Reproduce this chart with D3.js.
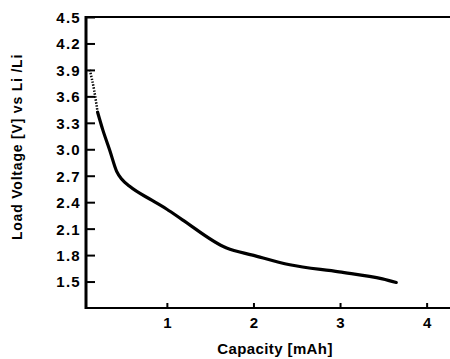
<!DOCTYPE html>
<html>
<head>
<meta charset="utf-8">
<script src="https://cdn.jsdelivr.net/npm/d3@7"></script>
<style>
  body { margin: 0; background: #fff; }
  svg { display: block; }
  text { font-family: "Liberation Sans", Arial, sans-serif; font-weight: bold; fill: #000; }
</style>
</head>
<body>
<svg id="svg" width="450" height="359"></svg>
<script>
// discharge curve
var capacity = [0.11, 0.16, 0.20, 0.26, 0.34, 0.42, 0.48, 0.57, 0.83, 1.00, 1.18, 1.69, 1.99, 2.42, 2.99, 3.49, 3.65];
var voltage  = [3.90, 3.67, 3.42, 3.22, 2.99, 2.75, 2.66, 2.58, 2.42, 2.32, 2.20, 1.88, 1.80, 1.69, 1.61, 1.53, 1.49];
var dottedUntil = 3; // first points are drawn sparse/dotted

var yTicks = [1.5, 1.8, 2.1, 2.4, 2.7, 3.0, 3.3, 3.6, 3.9, 4.2, 4.5];
var xTicks = [1, 2, 3, 4];

var svg = d3.select("#svg");
var mLeft = 86, mTop = 17, mBottom = 308, mRight = 450;

var x = d3.scaleLinear().domain([0.066, 4.27]).range([mLeft, mRight]);
var y = d3.scaleLinear().domain([1.2, 4.5]).range([mBottom, mTop]);

// frame: top and bottom lines
svg.append("line").attr("x1", mLeft).attr("x2", mRight).attr("y1", mTop).attr("y2", mTop)
  .attr("stroke", "#000").attr("stroke-width", 2);
svg.append("line").attr("x1", mLeft).attr("x2", mRight).attr("y1", mBottom).attr("y2", mBottom)
  .attr("stroke", "#000").attr("stroke-width", 2);

// y axis, ticks pointing inward
let yAxis = svg.append("g")
  .attr("transform", `translate(${mLeft},0)`)
  .call(d3.axisRight(y).tickValues(yTicks).tickSize(9).tickFormat(d3.format(".1f")));
yAxis.select(".domain").remove();
yAxis.selectAll(".tick line").attr("stroke", "#000").attr("stroke-width", 2);
yAxis.selectAll(".tick text")
  .attr("x", -5).attr("text-anchor", "end")
  .attr("font-size", 15).attr("letter-spacing", 1.3).attr("dy", "0.36em");
svg.append("line").attr("x1", mLeft).attr("x2", mLeft).attr("y1", mTop - 1).attr("y2", mBottom + 1)
  .attr("stroke", "#000").attr("stroke-width", 3);

// x axis, small ticks pointing up
let xAxis = svg.append("g")
  .attr("transform", `translate(0,${mBottom})`)
  .call(d3.axisTop(x).tickValues(xTicks).tickSize(5).tickFormat(d3.format("d")));
xAxis.select(".domain").remove();
xAxis.selectAll(".tick line").attr("stroke", "#000").attr("stroke-width", 2);
xAxis.selectAll(".tick text")
  .attr("y", 20).attr("dy", 0).attr("font-size", 15);

// curve
let line = d3.line().x(d => x(d[0])).y(d => y(d[1])).curve(d3.curveMonotoneX);
let pts = d3.zip(capacity, voltage);
svg.append("path")
  .attr("d", line(pts.slice(0, dottedUntil)))
  .attr("fill", "none").attr("stroke", "#000")
  .attr("stroke-width", 2.5).attr("stroke-dasharray", "1.5,1.5");
svg.append("path")
  .attr("d", line(pts.slice(dottedUntil - 1)))
  .attr("fill", "none").attr("stroke", "#000")
  .attr("stroke-width", 3.2).attr("stroke-linecap", "round");

// titles
svg.append("text")
  .attr("x", 275).attr("y", 354)
  .attr("text-anchor", "middle").attr("font-size", 15).attr("letter-spacing", 0.4)
  .text("Capacity [mAh]");
svg.append("text")
  .attr("transform", "translate(22,147) rotate(-90)")
  .attr("text-anchor", "middle").attr("font-size", 14).attr("letter-spacing", 0.8)
  .text("Load Voltage [V] vs Li /Li");
</script>
</body>
</html>
